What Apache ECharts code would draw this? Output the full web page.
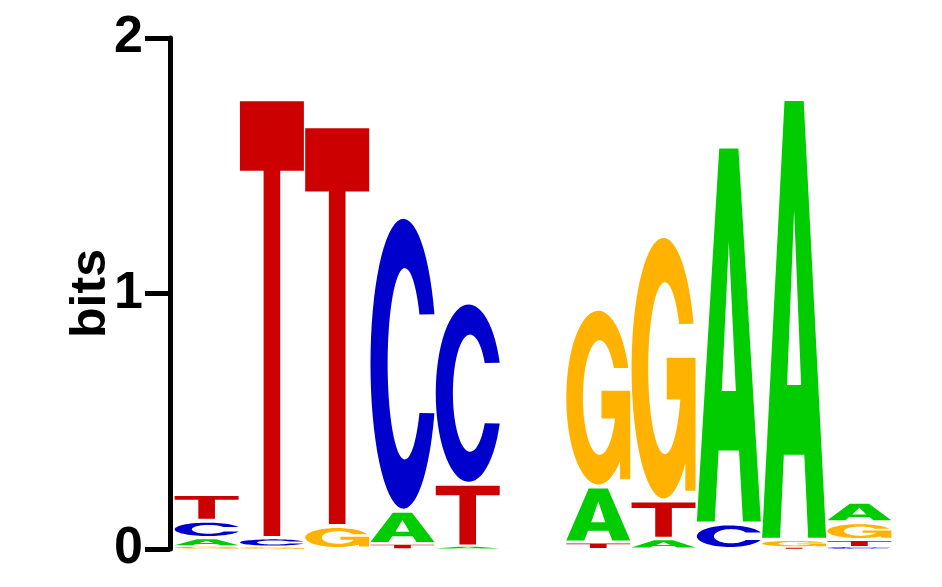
<!DOCTYPE html>
<html>
<head>
<meta charset="utf-8">
<script src="https://cdn.jsdelivr.net/npm/echarts@6/dist/echarts.min.js"></script>
<style>
html,body{margin:0;padding:0;background:#fff;}
#logo{width:942px;height:587px;}
</style>
</head>
<body>
<div id="logo"></div>
<script>
// positions 1..11 (position 6 is empty)
var positions = [1, 2, 3, 4, 5, 6, 7, 8, 9, 10, 11];
// letter heights in bits
var bitsA = [0.033, 0,     0,     0.130, 0.010, 0, 0.220, 0.040, 1.475, 1.725, 0.080];
var bitsC = [0.068, 0.035, 0,     1.150, 0.710, 0, 0,     0,     0.100, 0,     0.008];
var bitsG = [0.010, 0.008, 0.090, 0,     0,     0, 0.695, 1.035, 0,     0.030, 0.070];
var bitsT = [0.104, 1.717, 1.565, 0.020, 0.245, 0, 0.025, 0.150, 0,     0.006, 0.027];
var yTicks = [0, 1, 2];

var letters = ['A', 'C', 'G', 'T'];
var colors = {A: '#00CC00', C: '#0000CC', G: '#FFB300', T: '#CC0000'};

// glyph outlines in a 100x100 box
function arcPts(cx, cy, rx, ry, a0, a1, n) {
	var pts = [];
	for (var i = 0; i <= n; i++) {
		var a = (a0 + (a1 - a0) * i / n) * Math.PI / 180;
		pts.push([cx + rx * Math.cos(a), cy + ry * Math.sin(a)]);
	}
	return pts;
}
function toPath(pts) {
	var s = '';
	for (var i = 0; i < pts.length; i++) {
		s += (i == 0 ? 'M' : 'L') + pts[i][0].toFixed(2) + ',' + pts[i][1].toFixed(2) + ' ';
	}
	return s + 'Z';
}
var glyphC = toPath(arcPts(50, 50, 50, 50, -20, -340, 60).concat(arcPts(52, 50, 26, 33, 31, 329, 60)));
var glyphG = toPath(arcPts(50, 50, 50, 50, -20, -313, 60)
	.concat([[84, 97], [100, 97], [100, 46], [55, 46], [55, 62], [76.2, 62]])
	.concat(arcPts(52, 50, 26, 33, 21.3, 329, 60)));
var glyphs = {
	A: 'M0,100 L35,0 L65,0 L100,100 L72,100 L66,81 L34,81 L28,100 Z M39,65 L61,65 L50,25 Z',
	C: glyphC,
	G: glyphG,
	T: 'M0,0 L100,0 L100,16 L63,16 L63,100 L37,100 L37,16 L0,16 Z'
};

// stack each column, smallest letter at the bottom
var stackData = [];
for (var i = 0; i < positions.length; i++) {
	var col = [
		{l: 'A', h: bitsA[i]}, {l: 'C', h: bitsC[i]},
		{l: 'G', h: bitsG[i]}, {l: 'T', h: bitsT[i]}
	];
	col.sort(function (a, b) { return a.h - b.h; });
	var base = 0;
	for (var j = 0; j < col.length; j++) {
		if (col[j].h <= 0) continue;
		stackData.push([positions[i], base, base + col[j].h, letters.indexOf(col[j].l)]);
		base += col[j].h;
	}
}

var myChart = echarts.init(document.getElementById('logo'));
var option = {
	animation: false,
	grid: {left: 174, right: 50, top: 38, bottom: 38, outerBoundsMode: 'none'},
	xAxis: {type: 'value', min: 0.5, max: 11.5, show: false},
	yAxis: {
		type: 'value', min: yTicks[0], max: yTicks[yTicks.length - 1], interval: 1,
		offset: 4,
		name: 'bits', nameLocation: 'middle', nameRotate: 90, nameGap: 54,
		nameMoveOverlap: false,
		nameTextStyle: {fontFamily: 'Liberation Sans', fontWeight: 'bold', fontSize: 50, color: '#000'},
		axisLine: {show: true, lineStyle: {color: '#000', width: 5}},
		axisTick: {show: true, length: 25, lineStyle: {color: '#000', width: 5}},
		axisLabel: {margin: 27, fontFamily: 'Liberation Sans', fontWeight: 'bold', fontSize: 52, color: '#000'},
		splitLine: {show: false}
	},
	series: [{
		type: 'custom',
		silent: true,
		data: stackData,
		renderItem: function (params, api) {
			var p0 = api.coord([api.value(0) - 0.49, api.value(2)]);
			var p1 = api.coord([api.value(0) + 0.49, api.value(1)]);
			var l = letters[api.value(3)];
			var h = p1[1] - p0[1];
			// small gap between stacked letters
			var pad = Math.min(2, h * 0.15);
			return {
				type: 'path',
				shape: {pathData: glyphs[l], x: p0[0], y: p0[1] + pad, width: p1[0] - p0[0], height: h - 2 * pad, layout: 'cover'},
				style: {fill: colors[l]}
			};
		}
	}]
};
myChart.setOption(option);
</script>
</body>
</html>
